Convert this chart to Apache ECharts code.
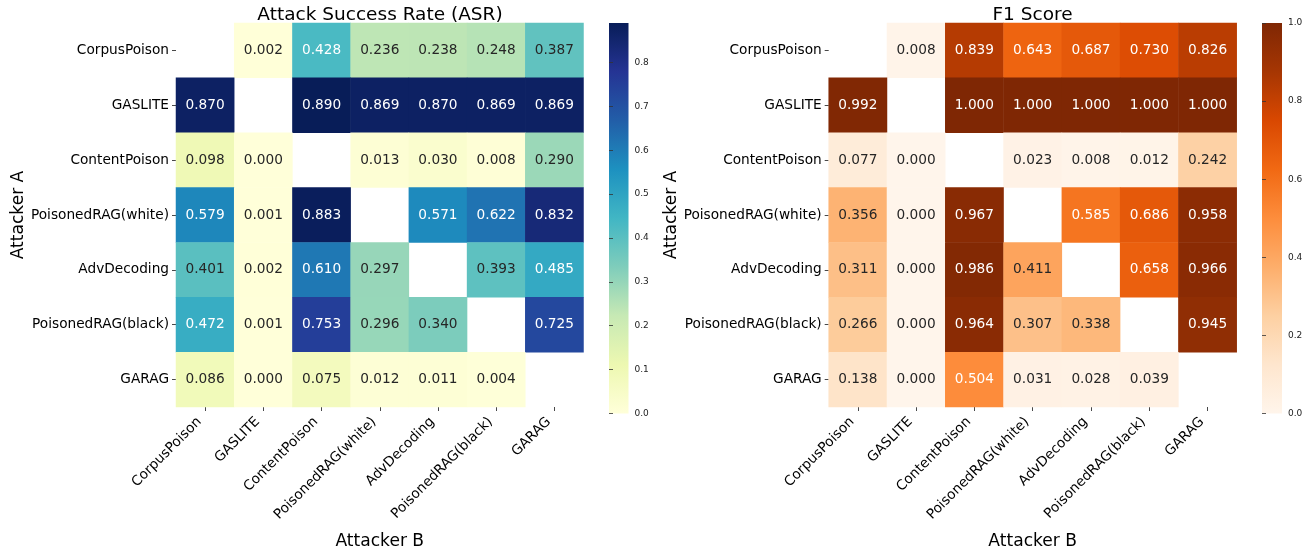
<!DOCTYPE html>
<html><head><meta charset="utf-8">
<script src="https://cdn.jsdelivr.net/npm/echarts@6/dist/echarts.min.js"></script>
<style>html,body{margin:0;padding:0;background:#fff}#c{width:1314px;height:555px}</style>
</head><body><div id="c"></div>
<script>
const attackers = ['CorpusPoison','GASLITE','ContentPoison','PoisonedRAG(white)','AdvDecoding','PoisonedRAG(black)','GARAG'];
// rows = Attacker A, columns = Attacker B (null = diagonal, not shown)
const asrValues = [
  [null, 0.002, 0.428, 0.236, 0.238, 0.248, 0.387],
  [0.870, null, 0.890, 0.869, 0.870, 0.869, 0.869],
  [0.098, 0.000, null, 0.013, 0.030, 0.008, 0.290],
  [0.579, 0.001, 0.883, null, 0.571, 0.622, 0.832],
  [0.401, 0.002, 0.610, 0.297, null, 0.393, 0.485],
  [0.472, 0.001, 0.753, 0.296, 0.340, null, 0.725],
  [0.086, 0.000, 0.075, 0.012, 0.011, 0.004, null]
];
const f1Values = [
  [null, 0.008, 0.839, 0.643, 0.687, 0.730, 0.826],
  [0.992, null, 1.000, 1.000, 1.000, 1.000, 1.000],
  [0.077, 0.000, null, 0.023, 0.008, 0.012, 0.242],
  [0.356, 0.000, 0.967, null, 0.585, 0.686, 0.958],
  [0.311, 0.000, 0.986, 0.411, null, 0.658, 0.966],
  [0.266, 0.000, 0.964, 0.307, 0.338, null, 0.945],
  [0.138, 0.000, 0.504, 0.031, 0.028, 0.039, null]
];
const asrRange = [0, 0.890];
const f1Range = [0, 1.0];
const asrTicks = [0, 0.1, 0.2, 0.3, 0.4, 0.5, 0.6, 0.7, 0.8];
const f1Ticks = [0, 0.2, 0.4, 0.6, 0.8, 1.0];
const titles = ['Attack Success Rate (ASR)', 'F1 Score'];
const axisNames = ['Attacker B', 'Attacker A'];

const ylgnbu = ['#ffffd9','#edf8b1','#c7e9b4','#7fcdbb','#41b6c4','#1d91c0','#225ea8','#253494','#081d58'];
const oranges = ['#fff5eb','#fee6ce','#fdd0a2','#fdae6b','#fd8d3c','#f16913','#d94801','#a63603','#7f2704'];

const FONT = 'DejaVu Sans';

function hex2rgb(h){return [parseInt(h.slice(1,3),16),parseInt(h.slice(3,5),16),parseInt(h.slice(5,7),16)];}
function cmapColor(cmap, v, range){
  let t = (v - range[0])/(range[1]-range[0]); t = Math.max(0, Math.min(1, t));
  const n = cmap.length - 1, p = t*n, i = Math.min(Math.floor(p), n-1), f = p - i;
  const a = hex2rgb(cmap[i]), b = hex2rgb(cmap[i+1]);
  return a.map((c,k)=>c + (b[k]-c)*f);
}
function lum(rgb){
  const l = rgb.map(c=>{c/=255; return c<=0.03928? c/12.92 : Math.pow((c+0.055)/1.055, 2.4);});
  return 0.2126*l[0] + 0.7152*l[1] + 0.0722*l[2];
}
function buildData(mat, cmap, range){
  const out = [];
  mat.forEach((row,i)=>row.forEach((v,j)=>{
    if (v === null) return;
    const col = lum(cmapColor(cmap, v, range)) > 0.408 ? '#262626' : '#ffffff';
    out.push({value:[j,i,v], label:{color:col}});
  }));
  return out;
}

const grids = [
  {left:176, top:23, width:407.5, height:390.5},
  {left:828.7, top:23, width:408, height:390.5},
  {left:609, top:23, width:19.5, height:390.5},
  {left:1262, top:23, width:20, height:390.5}
];

function catX(gi){
  return {type:'category', gridIndex:gi, data:attackers,
    name: axisNames[0], nameLocation:'middle', nameGap:126,
    nameTextStyle:{fontFamily:FONT, fontSize:17.1, color:'#000'},
    axisLine:{show:false}, splitLine:{show:false}, splitArea:{show:false},
    axisTick:{show:true, alignWithLabel:true, length:4, lineStyle:{color:'#333', width:0.9}},
    axisLabel:{rotate:45, interval:0, fontFamily:FONT, fontSize:13.7, color:'#000', margin:7, padding:[0,8,0,0]}
  };
}
function catY(gi){
  return {type:'category', gridIndex:gi, data:attackers, inverse:true,
    name: axisNames[1], nameLocation:'middle', nameGap:149, nameRotate:90,
    nameTextStyle:{fontFamily:FONT, fontSize:17.1, color:'#000'},
    axisLine:{show:false}, splitLine:{show:false}, splitArea:{show:false},
    axisTick:{show:true, alignWithLabel:true, length:4, lineStyle:{color:'#333', width:0.9}},
    axisLabel:{interval:0, fontFamily:FONT, fontSize:13.7, color:'#000', margin:7}
  };
}
function cbarY(gi, range, ticks){
  return {type:'value', gridIndex:gi, min:range[0], max:range[1], position:'right',
    axisLine:{show:false}, splitLine:{show:false},
    axisTick:{show:true, length:4, customValues:ticks, lineStyle:{color:'#333', width:0.8}},
    axisLabel:{customValues:ticks, formatter:v=>v.toFixed(1), fontFamily:FONT, fontSize:9, color:'#222', margin:6}
  };
}
function vmap(si, range, cmap){
  return {type:'continuous', show:false, seriesIndex:si, dimension:2, min:range[0], max:range[1], inRange:{color:cmap}};
}
function cbarRect(g, cmap){
  const stops = cmap.map((c,i)=>({offset:1 - i/(cmap.length-1), color:c}));
  stops.reverse();
  return {type:'rect', silent:true, shape:{x:g.left, y:g.top, width:g.width, height:g.height},
    style:{fill:new echarts.graphic.LinearGradient(0,0,0,1, stops)}, z:0};
}

const chart = echarts.init(document.getElementById('c'));
chart.setOption({
  animation:false,
  backgroundColor:'#fff',
  title:[
    {text:titles[0], left:380, top:6, textAlign:'center', padding:0, textStyle:{fontFamily:FONT, fontSize:18.5, fontWeight:'normal', color:'#000'}},
    {text:titles[1], left:1032.5, top:6, textAlign:'center', padding:0, textStyle:{fontFamily:FONT, fontSize:18.5, fontWeight:'normal', color:'#000'}}
  ],
  grid:grids,
  xAxis:[catX(0), catX(1), {type:'value', gridIndex:2, show:false, min:0, max:1}, {type:'value', gridIndex:3, show:false, min:0, max:1}],
  yAxis:[catY(0), catY(1), cbarY(2, asrRange, asrTicks), cbarY(3, f1Range, f1Ticks)],
  visualMap:[vmap(0, asrRange, ylgnbu), vmap(1, f1Range, oranges)],
  graphic:[cbarRect(grids[2], ylgnbu), cbarRect(grids[3], oranges)],
  series:[
    {type:'heatmap', xAxisIndex:0, yAxisIndex:0, data:buildData(asrValues, ylgnbu, asrRange),
     label:{show:true, formatter:p=>p.value[2].toFixed(3), fontFamily:FONT, fontSize:13.7},
     emphasis:{disabled:true}},
    {type:'heatmap', xAxisIndex:1, yAxisIndex:1, data:buildData(f1Values, oranges, f1Range),
     label:{show:true, formatter:p=>p.value[2].toFixed(3), fontFamily:FONT, fontSize:13.7},
     emphasis:{disabled:true}}
  ]
});
</script></body></html>
